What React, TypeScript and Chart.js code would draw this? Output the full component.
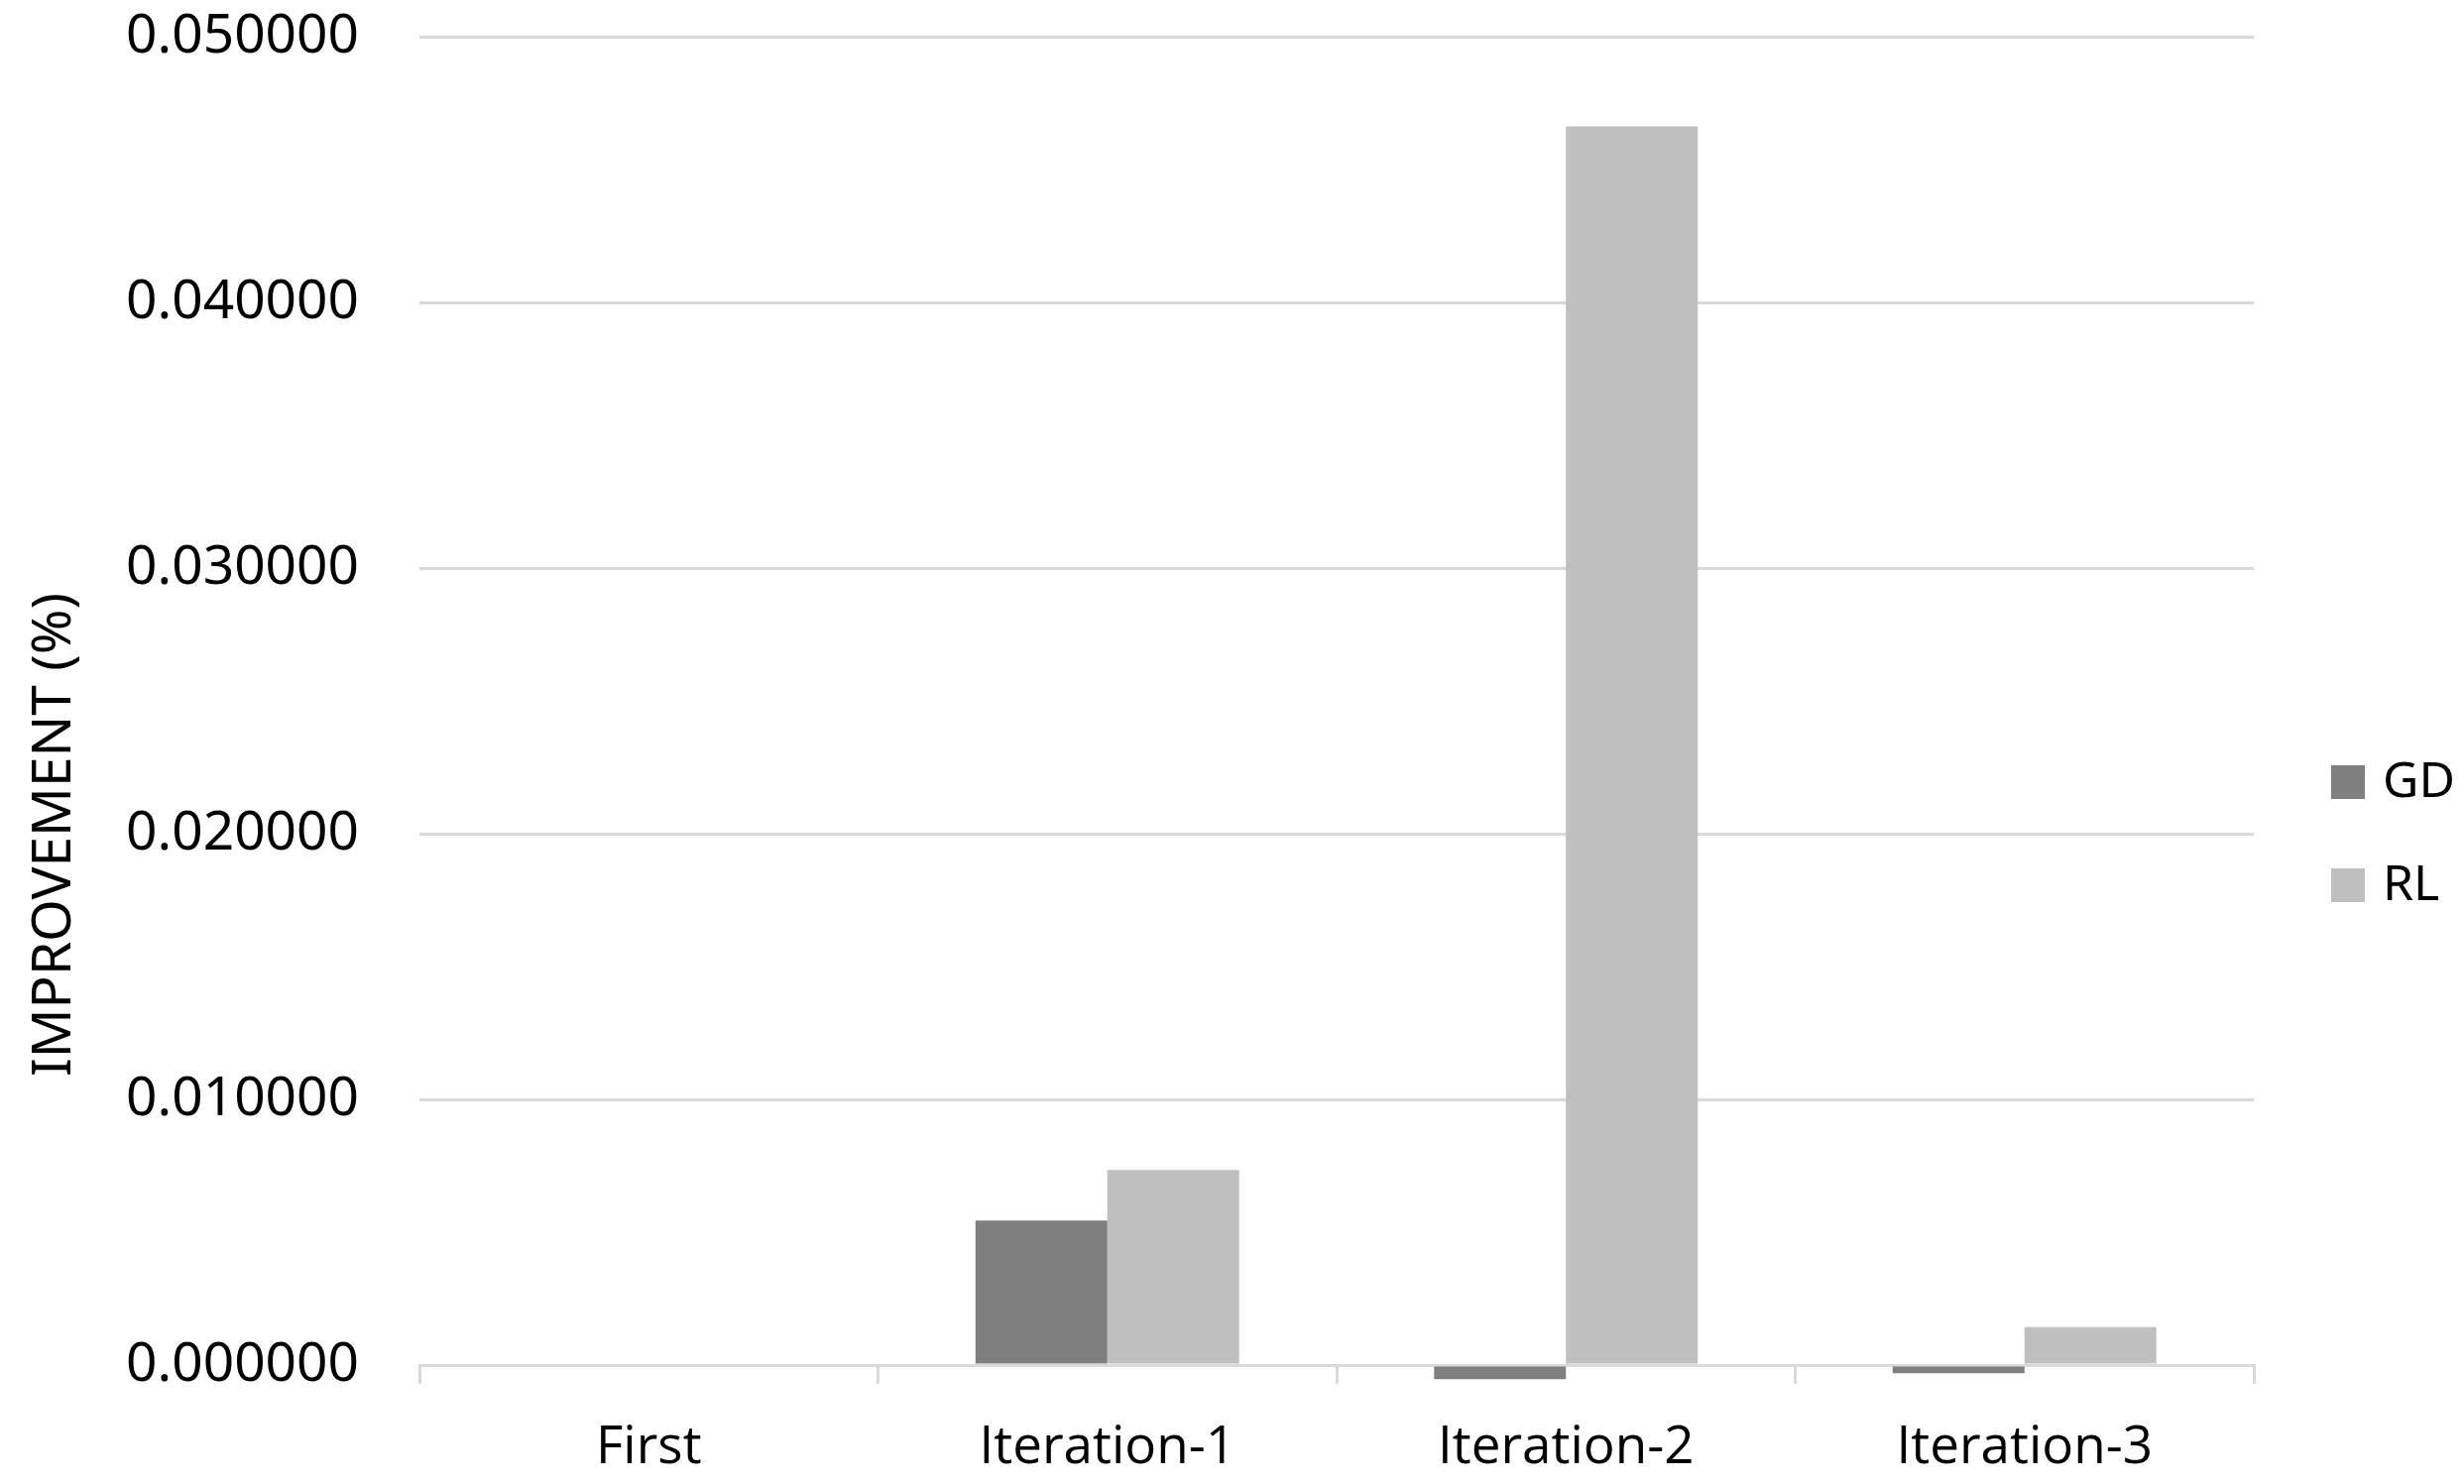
import React, { useEffect, useRef } from "react";
import { Chart, registerables } from "chart.js";

Chart.register(...registerables);

const categories = ["First", "Iteration-1", "Iteration-2", "Iteration-3"];
const gdValues = [0, 0.00544, -0.00053, -0.00031];
const rlValues = [0, 0.00734, 0.04662, 0.00143];
const seriesNames = ["GD", "RL"];
const seriesColors = ["#7f7f7f", "#bfbfbf"];
const yTitle = "IMPROVEMENT (%)";
const yMin = 0;
const yMax = 0.05;
const yStep = 0.01;

const W = 2485;
const H = 1497;

const overlayPlugin = {
  id: "overlay",
  afterDraw(chart: any) {
    const ctx = chart.ctx;
    const area = chart.chartArea;
    ctx.save();
    // y axis title
    ctx.fillStyle = "#000000";
    ctx.font = "55px 'Noto Sans'";
    ctx.textAlign = "center";
    ctx.textBaseline = "middle";
    ctx.translate(55, area.bottom - 535);
    ctx.rotate(-Math.PI / 2);
    ctx.fillText(yTitle, 0, 0);
    ctx.restore();

    // legend
    ctx.save();
    const datasets = chart.data.datasets;
    const legendX = area.right + 78;
    const firstY = 789;
    const gap = 104;
    ctx.font = "50px 'Noto Sans'";
    ctx.textAlign = "left";
    ctx.textBaseline = "middle";
    datasets.forEach((ds: any, i: number) => {
      const cy = firstY + i * gap;
      ctx.fillStyle = ds.backgroundColor;
      ctx.fillRect(legendX, cy - 17, 34, 34);
      ctx.fillStyle = "#000000";
      ctx.fillText(ds.label, legendX + 52, cy + 1);
    });
    ctx.restore();
  },
};

export default function App() {
  const canvasRef = useRef<HTMLCanvasElement | null>(null);

  useEffect(() => {
    document.body.style.margin = "0";
    const canvas = canvasRef.current;
    if (!canvas) return;
    const chart = new Chart(canvas, {
      type: "bar",
      data: {
        labels: categories,
        datasets: [
          {
            label: seriesNames[0],
            data: gdValues,
            backgroundColor: seriesColors[0],
            borderWidth: 0,
            clip: false as any,
          },
          {
            label: seriesNames[1],
            data: rlValues,
            backgroundColor: seriesColors[1],
            borderWidth: 0,
            clip: false as any,
          },
        ],
      },
      options: {
        responsive: false,
        animation: false,
        devicePixelRatio: 1,
        layout: { padding: { top: 37, right: 212, left: 0, bottom: 0 } },
        datasets: {
          bar: { categoryPercentage: 0.575, barPercentage: 1 },
        },
        plugins: {
          legend: { display: false },
          tooltip: { enabled: false },
          title: { display: false },
        },
        scales: {
          x: {
            offset: true,
            grid: {
              display: true,
              drawOnChartArea: false,
              drawTicks: true,
              tickLength: 19,
              color: "#d9d9d9",
              lineWidth: 3,
              offset: true,
            },
            border: { display: true, color: "#d9d9d9", width: 3 },
            ticks: {
              color: "#000000",
              font: { family: "'Open Sans'", size: 53 },
              padding: 33,
              maxRotation: 0,
            },
            afterFit(scale: any) {
              scale.height = H - 1377;
              scale.paddingLeft = 0;
              scale.paddingRight = 0;
            },
          },
          y: {
            min: yMin,
            max: yMax,
            grid: {
              color: "#d9d9d9",
              lineWidth: 3,
              drawTicks: false,
            },
            border: { display: false },
            ticks: {
              stepSize: yStep,
              color: "#000000",
              font: { family: "'Noto Sans'", size: 55 },
              padding: 61,
              callback: (v: any) => Number(v).toFixed(6),
            },
            afterFit(scale: any) {
              scale.width = 423;
              scale.paddingTop = 0;
              scale.paddingBottom = 0;
            },
          },
        },
      },
      plugins: [overlayPlugin],
    });
    return () => chart.destroy();
  }, []);

  return (
    <div style={{ width: W, height: H, background: "#ffffff" }}>
      <canvas ref={canvasRef} width={W} height={H} style={{ display: "block" }} />
    </div>
  );
}
